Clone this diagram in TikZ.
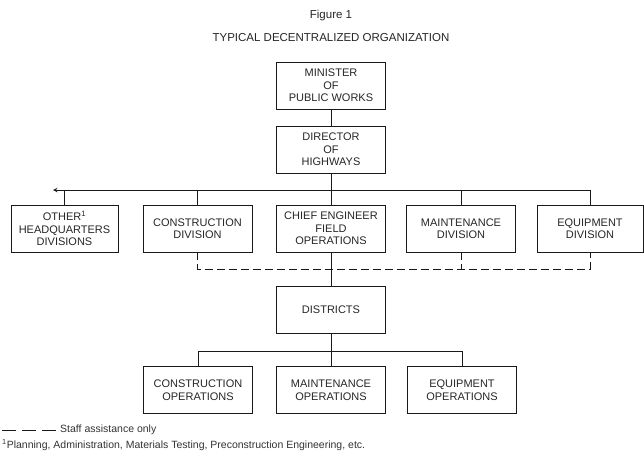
\documentclass[tikz,border=0pt]{standalone}
\usepackage{fontspec}
\setmainfont{Liberation Sans}

\begin{document}
\begin{tikzpicture}[
    x=1pt, y=-1pt,
    orgbox/.style={rectangle, draw=black!90, line width=0.7pt, minimum width=109pt, minimum height=47pt, align=center, inner sep=2pt, text=black!85, font=\fontsize{11}{12.5}\selectfont},
    title/.style={text=black!85, font=\fontsize{11.5}{13}\selectfont},
    note/.style={anchor=west, text=black!80, inner sep=2pt, font=\fontsize{10.5}{12}\selectfont},
    line/.style={draw=black!90, line width=1pt},
    arrow/.style={line, ->, >=stealth},
    staff/.style={draw=black!90, line width=1pt, dash pattern=on 8pt off 4pt}
  ]
    \useasboundingbox (0,0) rectangle (644,451);

    % Titles
    \node[title] (figno) at (331,16) {Figure 1};
    \node[title] (figtitle) at (331,38) {TYPICAL DECENTRALIZED ORGANIZATION};

    % Top layer - Ministry
    \node[orgbox] (minister) at (331,85.5) {MINISTER\\OF\\PUBLIC WORKS};
    \node[orgbox] (director) at (331,149.5) {DIRECTOR\\OF\\HIGHWAYS};

    % Second layer - Headquarters divisions
    \node[orgbox, minimum width=107pt] (other) at (64.5,228.5) {OTHER\textsuperscript{1}\\HEADQUARTERS\\DIVISIONS};
    \node[orgbox] (constr) at (197.5,228.5) {CONSTRUCTION\\DIVISION};
    \node[orgbox] (chief) at (331,228.5) {CHIEF ENGINEER\\FIELD\\OPERATIONS};
    \node[orgbox] (maint) at (461,228.5) {MAINTENANCE\\DIVISION};
    \node[orgbox, minimum width=106pt] (equip) at (590,228.5) {EQUIPMENT\\DIVISION};

    % Third layer - Districts
    \node[orgbox] (districts) at (331,310) {DISTRICTS};

    % Bottom layer - Operations
    \node[orgbox] (conops) at (198,390) {CONSTRUCTION\\OPERATIONS};
    \node[orgbox] (maintops) at (331,390) {MAINTENANCE\\OPERATIONS};
    \node[orgbox] (equipops) at (462,390) {EQUIPMENT\\OPERATIONS};

    % Bars
    \coordinate (hqend) at (53,190);
    \coordinate (staffbar) at (0,269);
    \coordinate (opsbar) at (0,351);

    % Lines - Line authority
    \draw[line] (minister) -- (director);
    \draw[line] (director) -- (chief);
    \draw[arrow] (equip.north) |- (hqend);
    \draw[line] (other.north) -- (other.north |- hqend);
    \draw[line] (constr.north) -- (constr.north |- hqend);
    \draw[line] (maint.north) -- (maint.north |- hqend);
    \draw[line] (chief) -- (districts);
    \draw[line] (districts) -- (maintops);
    \draw[line] (conops.north) |- (equipops.north |- opsbar) -- (equipops.north);

    % Lines - Staff assistance
    \draw[staff] (constr.south) |- (equip.south |- staffbar) -- (equip.south);
    \draw[staff] (maint.south) -- (maint.south |- staffbar);

    % Legend and footnote
    \coordinate (legstart) at (2,430);
    \node[note] (legtext) at (58,430) {Staff assistance only};
    \draw[staff, dash pattern=on 14pt off 6pt] (legstart) -- (legtext.west);
    \node[note] (footnote) at (0,445) {\textsuperscript{1}Planning, Administration, Materials Testing, Preconstruction Engineering, etc.};

  \end{tikzpicture}
\end{document}
